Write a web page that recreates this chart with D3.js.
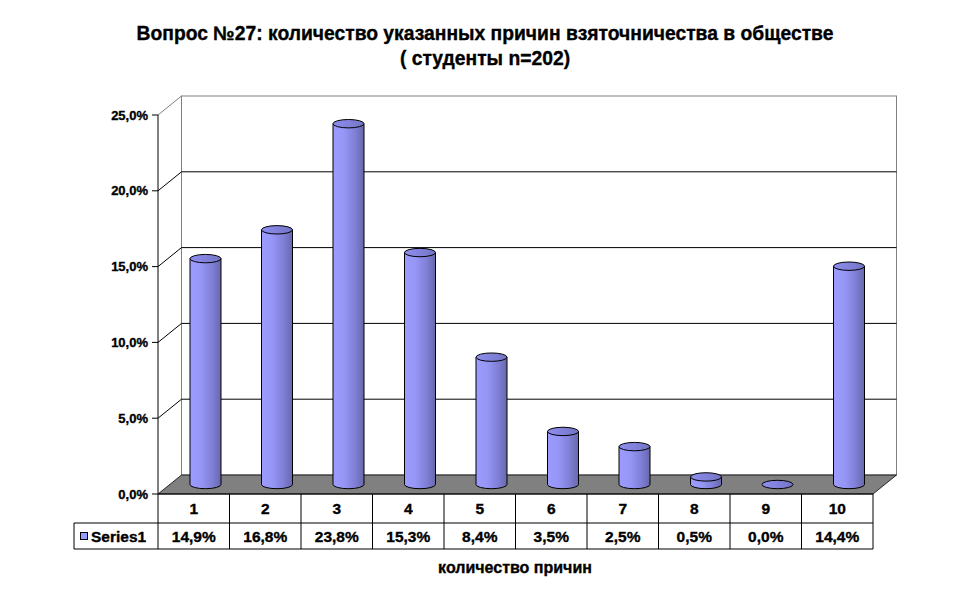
<!DOCTYPE html>
<html><head><meta charset="utf-8">
<script src="https://cdn.jsdelivr.net/npm/d3@7"></script>
<style>body{margin:0;background:#fff}svg{display:block}text{font-family:"Liberation Sans",Arial,sans-serif;font-weight:bold;fill:#000;stroke:#000;stroke-width:0.35px}</style>
</head><body>
<script>
const categories = ["1","2","3","4","5","6","7","8","9","10"];
const values = [14.9, 16.8, 23.8, 15.3, 8.4, 3.5, 2.5, 0.5, 0.0, 14.4];
const yTicks = [0, 5, 10, 15, 20, 25];
const seriesName = "Series1";
const titleLines = ["Вопрос №27: количество указанных причин взяточничества в обществе", "( студенты n=202)"];
const xTitle = "количество причин";

const W = 970, H = 604;
const svg = d3.select("body").append("svg").attr("width", W).attr("height", H);
const fmt = v => v.toFixed(1).replace(".", ",") + "%";

const x = d3.scaleBand().domain(categories).range([158, 873]);
const y = d3.scaleLinear().domain([0, 25]).range([494, 115]);
const dx = 23.5, dy = -19;

const defs = svg.append("defs");
const g1 = defs.append("linearGradient").attr("id", "cyl").attr("x1", 0).attr("x2", 1).attr("y1", 0).attr("y2", 0);
[[0, "#9c9cff"], [0.35, "#9696f6"], [0.7, "#8080d8"], [1, "#6868ac"]].forEach(s => g1.append("stop").attr("offset", s[0]).attr("stop-color", s[1]));
const g2 = defs.append("linearGradient").attr("id", "cyltop").attr("x1", 0).attr("x2", 1).attr("y1", 0).attr("y2", 0);
[[0, "#8e8ef0"], [1, "#7474c4"]].forEach(s => g2.append("stop").attr("offset", s[0]).attr("stop-color", s[1]));

// title
titleLines.forEach((t, i) => svg.append("text").attr("x", 485).attr("y", 40 + i * 25).attr("text-anchor", "middle")
  .attr("font-size", 19.3).text(t));

const x0 = x.range()[0], x1 = x.range()[1];
const yTop = y(25), yBot = y(0);

// back wall
svg.append("rect").attr("x", x0 + dx).attr("y", yTop + dy).attr("width", x1 - x0).attr("height", yBot - yTop)
  .attr("fill", "#fff").attr("stroke", "#808080");
// gridlines
yTicks.filter(t => t > 0 && t < 25).forEach(t => {
  svg.append("path").attr("d", `M${x0},${y(t)}L${x0 + dx},${y(t) + dy}L${x1 + dx},${y(t) + dy}`)
    .attr("fill", "none").attr("stroke", "#000");
});
svg.append("path").attr("d", `M${x0},${yTop}L${x0 + dx},${yTop + dy}`).attr("stroke", "#808080").attr("fill", "none");
// floor
svg.append("path").attr("d", `M${x0},${yBot}L${x1},${yBot}L${x1 + dx},${yBot + dy}L${x0 + dx},${yBot + dy}Z`)
  .attr("fill", "#808080").attr("stroke", "#000").attr("stroke-width", 0.8);

// axis
svg.append("line").attr("x1", x0).attr("x2", x0).attr("y1", yTop).attr("y2", yBot).attr("stroke", "#000");
yTicks.forEach(t => {
  svg.append("line").attr("x1", x0 - 6).attr("x2", x0).attr("y1", y(t)).attr("y2", y(t)).attr("stroke", "#000");
  svg.append("text").attr("x", x0 - 10).attr("y", y(t) + 4.5).attr("text-anchor", "end").attr("font-size", 13).text(fmt(t));
});

// cylinders
const rx = 15.5, ry = 4.2;
categories.forEach((c, i) => {
  const v = values[i];
  const cx = x(c) + x.bandwidth() / 2 + dx / 2;
  const yb = y(0) + dy / 2, yt = y(v) + dy / 2;
  const gc = svg.append("g");
  if (yb - yt > 0.5) {
    gc.append("path").attr("d",
      `M${cx - rx},${yt}L${cx - rx},${yb}A${rx},${ry} 0 0 0 ${cx + rx},${yb}L${cx + rx},${yt}Z`)
      .attr("fill", "url(#cyl)").attr("stroke", "#000").attr("stroke-width", 1);
  }
  gc.append("ellipse").attr("cx", cx).attr("cy", yt).attr("rx", rx).attr("ry", ry)
    .attr("fill", "url(#cyltop)").attr("stroke", "#000").attr("stroke-width", 1);
});

// data table
const r0 = 494, r1 = 523, r2 = 549;
const tb = svg.append("g").attr("stroke", "#000").attr("fill", "none");
tb.append("line").attr("x1", x0).attr("x2", x1).attr("y1", r0).attr("y2", r0);
tb.append("line").attr("x1", 74).attr("x2", x1).attr("y1", r1).attr("y2", r1);
tb.append("line").attr("x1", 74).attr("x2", x1).attr("y1", r2).attr("y2", r2);
tb.append("line").attr("x1", 74).attr("x2", 74).attr("y1", r1).attr("y2", r2);
categories.forEach(c => tb.append("line").attr("x1", x(c)).attr("x2", x(c)).attr("y1", r0).attr("y2", r2));
tb.append("line").attr("x1", x1).attr("x2", x1).attr("y1", r0).attr("y2", r2);

categories.forEach((c, i) => {
  const cx = x(c) + x.bandwidth() / 2;
  svg.append("text").attr("x", cx).attr("y", r0 + 20).attr("text-anchor", "middle").attr("font-size", 15.5).text(c);
  svg.append("text").attr("x", cx).attr("y", r1 + 19).attr("text-anchor", "middle").attr("font-size", 15.5).text(fmt(values[i]));
});
svg.append("rect").attr("x", 80.5).attr("y", 532.5).attr("width", 7).attr("height", 7).attr("fill", "#9999ff").attr("stroke", "#000");
svg.append("text").attr("x", 91).attr("y", r1 + 19).attr("font-size", 15.5).text(seriesName);

svg.append("text").attr("x", 515).attr("y", 573).attr("text-anchor", "middle").attr("font-size", 16).text(xTitle);
</script>
</body></html>
